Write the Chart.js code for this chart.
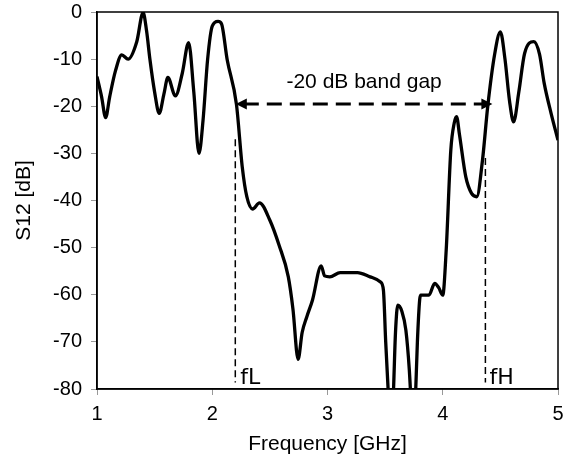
<!DOCTYPE html>
<html>
<head>
<meta charset="utf-8">
<script src="https://cdn.jsdelivr.net/npm/chart.js@4.4.1/dist/chart.umd.min.js"></script>
<style>
  html, body { margin: 0; padding: 0; background: #fff; }
  #wrap { width: 578px; height: 461px; }
</style>
</head>
<body>
<div id="wrap"><canvas id="myChart" width="578" height="461"></canvas></div>
<script>
const freq = [1.00, 1.04, 1.075, 1.11, 1.16, 1.215, 1.27, 1.345, 1.40, 1.43, 1.46, 1.50, 1.54, 1.58, 1.615,
    1.68, 1.74, 1.795, 1.84, 1.885, 1.92, 1.96, 2.00, 2.05, 2.08, 2.13, 2.21, 2.26, 2.30, 2.35, 2.41,
    2.50, 2.58, 2.66, 2.70, 2.745, 2.78, 2.82, 2.87, 2.945, 2.975, 3.02, 3.11, 3.26, 3.37, 3.46, 3.485,
    3.505, 3.53, 3.55, 3.57, 3.59, 3.61, 3.645, 3.68, 3.71, 3.73, 3.745, 3.76, 3.78, 3.80, 3.81, 3.88,
    3.93, 3.965, 4.00, 4.03, 4.07, 4.10, 4.12, 4.145, 4.20, 4.25, 4.295, 4.345, 4.39, 4.45, 4.50, 4.54,
    4.58, 4.615, 4.66, 4.71, 4.79, 4.84, 4.88, 4.94, 5.00];
const s12 = [-13.7, -18, -22.4, -18, -12.5, -9.1, -10, -6.3, -0.1, -4, -10.2, -17, -21.5, -17.5, -13.9,
    -17.8, -13, -6.5, -17, -30, -23, -10, -3, -2, -2.5, -10.2, -19.6, -32.8, -39.2, -41.8, -40.5,
    -44.2, -49.5, -56.2, -63, -73.7, -68, -64.7, -61.1, -53.9, -56, -56.2, -55.3, -55.3, -56.2, -57.3, -59,
    -70, -82, -90, -82, -68, -62.2, -63.5, -67.5, -76, -85, -90, -84, -70, -61, -60.1, -60.1,
    -57.6, -58.5, -60.1, -50.5, -29.3, -23.5, -22.2, -26, -35, -38.5, -39.2, -31.4, -20.1, -9, -4.2, -10,
    -19, -23.3, -17, -8.8, -6.3, -9, -15.1, -21.5, -27.2];

// band gap markers
const fLow = 2.2;
const fHigh = 4.37;
const gapLevel = -19.5;
const gapLabel = '-20 dB band gap';

const points = freq.map((f, i) => ({ x: f, y: s12[i] }));
const fontFamily = '"Liberation Sans", Arial, sans-serif';

// draws the frame, the fL / fH markers and the band gap arrow
const annotations = {
    id: 'annotations',
    afterDatasetsDraw(chart) {
        const ctx = chart.ctx;
        const a = chart.chartArea;
        const xs = chart.scales.x, ys = chart.scales.y;
        ctx.save();

        ctx.strokeStyle = '#000';
        ctx.lineWidth = 1.5;
        ctx.strokeRect(a.left, a.top, a.right - a.left, a.bottom - a.top);

        // vertical dashed markers
        ctx.setLineDash([7, 4]);
        const xl = xs.getPixelForValue(fLow), xh = xs.getPixelForValue(fHigh);
        ctx.beginPath();
        ctx.moveTo(xl, ys.getPixelForValue(-27));
        ctx.lineTo(xl, ys.getPixelForValue(-78.6));
        ctx.moveTo(xh, ys.getPixelForValue(-31));
        ctx.lineTo(xh, ys.getPixelForValue(-78.6));
        ctx.stroke();

        // horizontal double arrow
        const yg = ys.getPixelForValue(gapLevel);
        const x1 = xl + 0.5, x2 = xh + 7;
        ctx.lineWidth = 3;
        ctx.setLineDash([15, 8]);
        ctx.beginPath();
        ctx.moveTo(x1 + 8, yg);
        ctx.lineTo(x2 - 8, yg);
        ctx.stroke();
        ctx.setLineDash([]);
        ctx.fillStyle = '#000';
        ctx.beginPath();
        ctx.moveTo(x1, yg);
        ctx.lineTo(x1 + 11, yg - 5.5);
        ctx.lineTo(x1 + 11, yg + 5.5);
        ctx.closePath();
        ctx.fill();
        ctx.beginPath();
        ctx.moveTo(x2, yg);
        ctx.lineTo(x2 - 11, yg - 5.5);
        ctx.lineTo(x2 - 11, yg + 5.5);
        ctx.closePath();
        ctx.fill();

        ctx.font = '21px ' + fontFamily;
        ctx.textAlign = 'center';
        ctx.textBaseline = 'alphabetic';
        ctx.fillText(gapLabel, (x1 + x2) / 2, yg - 16);

        ctx.font = '22px "DejaVu Sans", sans-serif';
        ctx.textAlign = 'left';
        ctx.fillText('fL', xl + 5, ys.getPixelForValue(-80) - 5);
        ctx.fillText('fH', xh + 4, ys.getPixelForValue(-80) - 5);
        ctx.restore();
    }
};

const ctx = document.getElementById('myChart').getContext('2d');
const myChart = new Chart(ctx, {
    type: 'line',
    data: {
        datasets: [{
            data: points,
            borderColor: '#000',
            borderWidth: 3.3,
            pointRadius: 0,
            fill: false,
            cubicInterpolationMode: 'monotone'
        }]
    },
    options: {
        responsive: false,
        animation: false,
        layout: { padding: { left: 0, top: 12, right: 20, bottom: 0 } },
        plugins: { legend: { display: false }, tooltip: { enabled: false } },
        scales: {
            x: {
                type: 'linear',
                min: 1,
                max: 5,
                afterFit: (s) => { s.height = 72; s.paddingLeft = 0; s.paddingRight = 0; },
                border: { color: '#000', width: 1.5 },
                grid: { drawOnChartArea: false, tickLength: 6, color: '#999' },
                ticks: { stepSize: 1, color: '#000', padding: 7, font: { family: fontFamily, size: 20 } },
                title: { display: true, text: 'Frequency [GHz]', color: '#000', padding: { top: 0, bottom: 4 }, font: { family: fontFamily, size: 21 } }
            },
            y: {
                min: -80,
                max: 0,
                afterFit: (s) => { s.width = 97; s.paddingTop = 0; s.paddingBottom = 0; },
                border: { color: '#000', width: 1.5 },
                grid: { drawOnChartArea: false, tickLength: 6, color: '#999' },
                ticks: { stepSize: 10, color: '#000', padding: 9, font: { family: fontFamily, size: 20 } },
                title: { display: true, text: 'S12 [dB]', color: '#000', padding: { top: 12, bottom: 0 }, font: { family: fontFamily, size: 21 } }
            }
        }
    },
    plugins: [annotations]
});
</script>
</body>
</html>
